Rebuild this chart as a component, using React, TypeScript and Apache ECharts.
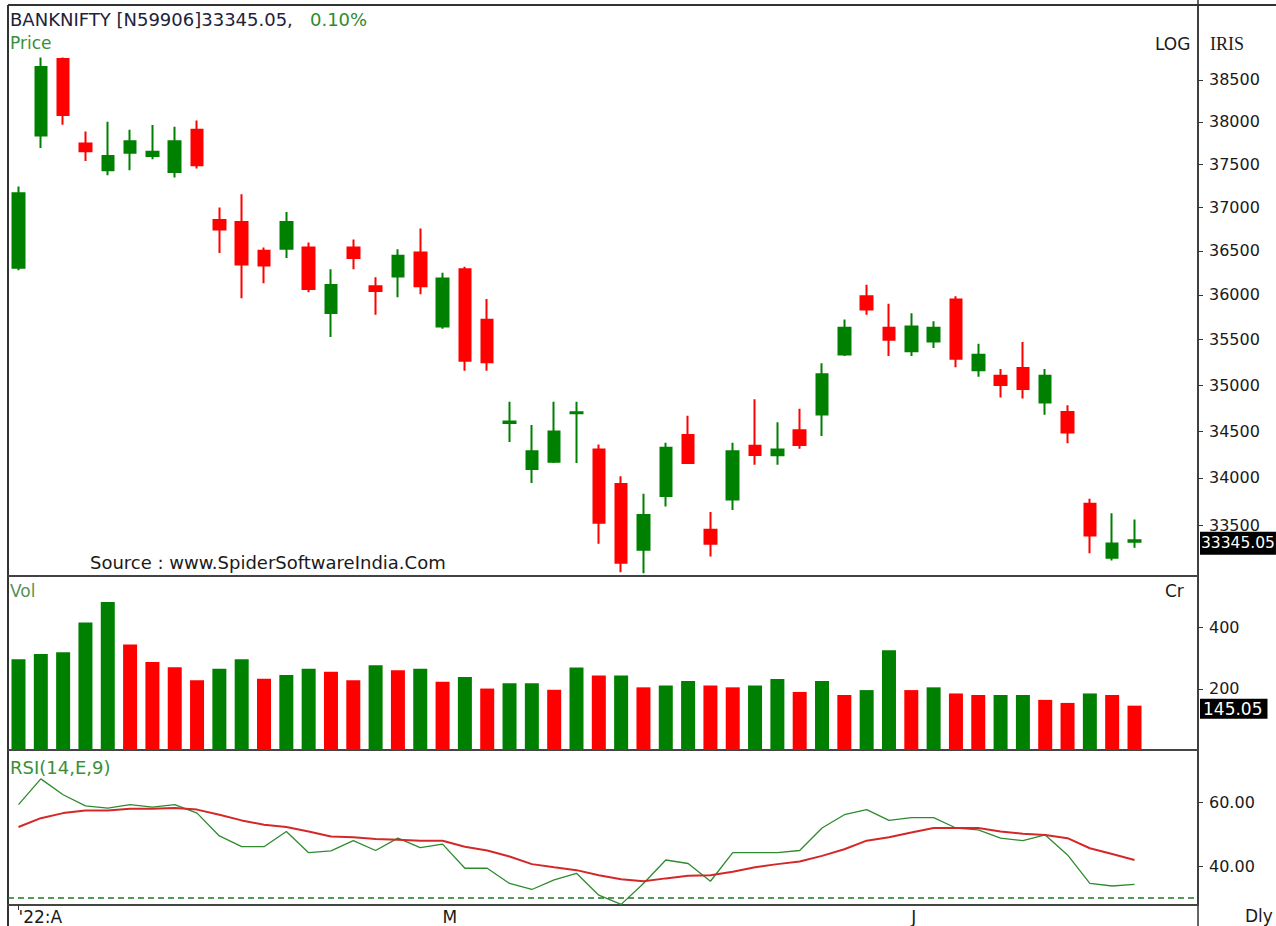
import React, { useEffect, useRef } from 'react';
import * as echarts from 'echarts';

// ---- Data ----
const opens = [36308, 37837, 38753, 37744, 37430, 37636, 37597, 37410, 37907, 36852,
  36829, 36500, 36523, 36538, 35797, 36538, 36097, 36208, 36481, 35648,
  36289, 35722, 34590, 34096, 34174, 34695, 34304, 33935, 33246, 33808,
  34460, 33455, 33772, 34344, 34242, 34511, 34681, 35337, 35986, 35633,
  35374, 35481, 35948, 35163, 35103, 35189, 34812, 34707, 33728, 33163, 33330];
const closes = [37163, 38658, 38080, 37654, 37597, 37771, 37648, 37771, 37488, 36744,
  36344, 36333, 36829, 36067, 36111, 36419, 36044, 36444, 36097, 36185,
  35267, 35252, 34605, 34286, 34497, 34705, 33528, 33112, 33609, 34323,
  34160, 33309, 34286, 34246, 34304, 34351, 35119, 35633, 35837, 35500,
  35648, 35633, 35289, 35333, 35003, 34957, 35103, 34486, 33395, 33311, 33345.05];
const lows = [36278, 37690, 37965, 37538, 37372, 37430, 37558, 37345, 37450, 36474,
  35963, 36133, 36419, 36030, 35530, 36289, 35778, 35974, 36008, 35622,
  35159, 35159, 34384, 33947, 34160, 34160, 33309, 33014, 33004, 33699,
  34150, 33177, 33663, 34140, 34140, 34312, 34449, 35319, 35778, 35319,
  35319, 35408, 35197, 35092, 34866, 34855, 34677, 34370, 33211, 33135, 33267];
const highs = [37241, 38770, 38770, 37887, 38000, 37907, 37962, 37942, 38015, 36997,
  37151, 36538, 36945, 36596, 36289, 36630, 36200, 36519, 36756, 36252,
  36319, 35956, 34818, 34567, 34818, 34818, 34358, 34018, 33834, 34377,
  34666, 33641, 34377, 34847, 34597, 34744, 35241, 35726, 36114, 35900,
  35796, 35707, 35986, 35456, 35178, 35474, 35178, 34780, 33779, 33627, 33562];

const volumes = [297, 314, 320, 417, 484, 345, 288, 271, 228, 266,
  297, 233, 245, 266, 256, 228, 277, 261, 266, 223,
  239, 201, 218, 218, 197, 270, 244, 244, 205, 211,
  226, 211, 205, 211, 232, 190, 226, 180, 196, 326,
  196, 205, 185, 180, 180, 180, 164, 154, 185, 180, 145.05];
const volumeUp = [1, 1, 1, 1, 1, 0, 0, 0, 0, 1,
  1, 0, 1, 1, 0, 0, 1, 0, 1, 0,
  1, 0, 1, 1, 0, 1, 0, 1, 0, 1,
  1, 0, 0, 1, 1, 0, 1, 0, 1, 1,
  0, 1, 0, 0, 1, 1, 0, 0, 1, 0, 0];

const rsi = [59.4, 67.5, 62.5, 59.0, 58.3, 59.4, 58.6, 59.4, 56.7, 49.5,
  46.1, 46.1, 50.9, 44.2, 44.8, 48.0, 44.9, 48.8, 45.8, 46.9,
  39.3, 39.3, 34.5, 32.6, 35.6, 37.7, 30.8, 27.9, 34.5, 41.9,
  40.8, 35.2, 44.2, 44.2, 44.2, 44.9, 52.0, 56.2, 57.8, 54.4,
  55.3, 55.3, 52.0, 51.4, 48.8, 48.0, 49.8, 43.5, 34.5, 33.7, 34.2];
const rsiSignal = [52.3, 55.1, 56.7, 57.5, 57.5, 58.1, 58.1, 58.3, 57.8, 56.2,
  54.4, 53.0, 52.3, 50.9, 49.3, 49.1, 48.5, 48.3, 48.0, 48.0,
  46.1, 44.9, 43.0, 40.6, 39.6, 38.7, 37.1, 35.8, 35.2, 36.1,
  36.9, 37.1, 38.2, 39.6, 40.6, 41.4, 43.2, 45.3, 48.0, 49.1,
  50.6, 52.0, 52.0, 52.0, 50.9, 50.2, 49.8, 48.8, 45.6, 43.8, 41.9];

const priceTicks = [33500, 34000, 34500, 35000, 35500, 36000, 36500, 37000, 37500, 38000, 38500];
const volumeTicks = [200, 400];
const rsiTicks = [40, 60];
const rsiOversold = 30;
const monthLabels = ["'22:A", 'M', 'J'];
const monthStarts = [0, 19, 40];

const lastClose = 33345.05;
const lastVolume = 145.05;
const changePct = '0.10%';

const FONT = '"DejaVu Sans", Verdana, sans-serif';
const GREEN = '#008000';
const RED = '#ff0000';
const TXT = '#1a1a1a';
const LABEL_GREEN = '#3a8f3a';

export default function App() {
  const ref = useRef<HTMLDivElement>(null);

  useEffect(() => {
    const chart = echarts.init(ref.current!, null, { renderer: 'svg' });
    const lg = Math.log10;
    const idx = opens.map((_, i) => i);

    const candleData = idx.map((i) => [i, lg(opens[i]), lg(closes[i]), lg(lows[i]), lg(highs[i])]);
    const volData = idx.map((i) => ({
      value: [i, volumes[i]],
      itemStyle: { color: volumeUp[i] ? GREEN : RED },
    }));
    const rsiData = idx.map((i) => [i, rsi[i]]);
    const sigData = idx.map((i) => [i, rsiSignal[i]]);

    const xMin = -0.47;
    const xMax = 52.845;
    const xAxisBase = (gridIndex: number, withLabels: boolean) => ({
      type: 'value',
      gridIndex,
      min: xMin,
      max: xMax,
      axisLine: { show: true, onZero: false, lineStyle: { color: '#444', width: 2 } },
      axisTick: withLabels
        ? { show: true, customValues: [monthStarts[0]], length: 5, lineStyle: { color: '#333' } }
        : { show: false },
      axisLabel: withLabels
        ? {
            show: true,
            customValues: monthStarts,
            formatter: (v: number) => monthLabels[monthStarts.indexOf(Math.round(v))] ?? '',
            align: 'left',
            margin: 3,
            fontSize: 17,
            fontFamily: FONT,
            color: TXT,
          }
        : { show: false },
      splitLine: { show: false },
    });

    const yLabel = {
      show: true,
      margin: 11,
      fontSize: 16,
      fontFamily: FONT,
      color: TXT,
    };
    const yBase = {
      type: 'value',
      position: 'right',
      axisLine: { show: true, onZero: false, lineStyle: { color: '#333', width: 1.5 } },
      splitLine: { show: false },
    };

    const baseGraphic: any[] = [
      { type: 'line', shape: { x1: 8, y1: 5, x2: 1276, y2: 5 }, style: { stroke: '#333', lineWidth: 2 } },
      { type: 'line', shape: { x1: 8, y1: 5, x2: 8, y2: 926 }, style: { stroke: '#333', lineWidth: 2 } },
      { type: 'line', shape: { x1: 1198, y1: 0, x2: 1198, y2: 926 }, style: { stroke: '#333', lineWidth: 1.5 } },
      {
        type: 'text',
        x: 10,
        y: 19,
        style: {
          text: `{a|BANKNIFTY [N59906]${lastClose.toFixed(2)},}{b|   ${changePct}}`,
          verticalAlign: 'middle',
          rich: {
            a: { fontSize: 18, fontFamily: FONT, fill: '#22223a' },
            b: { fontSize: 18, fontFamily: FONT, fill: '#2e8b2e' },
          },
        },
      },
      { type: 'text', x: 10, y: 43, style: { text: 'Price', fontSize: 17, fontFamily: FONT, fill: LABEL_GREEN, verticalAlign: 'middle' } },
      { type: 'text', x: 1155, y: 44, style: { text: 'LOG', fontSize: 17, fontFamily: FONT, fill: TXT, verticalAlign: 'middle' } },
      { type: 'text', x: 1210, y: 44, style: { text: 'IRIS', fontSize: 18, fontFamily: '"Liberation Serif", serif', fill: TXT, verticalAlign: 'middle' } },
      { type: 'text', x: 90, y: 562, style: { text: 'Source : www.SpiderSoftwareIndia.Com', fontSize: 18, fontFamily: FONT, fill: TXT, verticalAlign: 'middle' } },
      { type: 'text', x: 10, y: 591, style: { text: 'Vol', fontSize: 17, fontFamily: FONT, fill: '#5a8f5a', verticalAlign: 'middle' } },
      { type: 'text', x: 1165, y: 591, style: { text: 'Cr', fontSize: 17, fontFamily: FONT, fill: TXT, verticalAlign: 'middle' } },
      { type: 'text', x: 10, y: 767, style: { text: 'RSI(14,E,9)', fontSize: 18, fontFamily: FONT, fill: LABEL_GREEN, verticalAlign: 'middle' } },
      { type: 'text', x: 1245, y: 916, style: { text: 'Dly', fontSize: 17, fontFamily: FONT, fill: TXT, verticalAlign: 'middle' } },
    ];

    const option: any = {
      animation: false,
      backgroundColor: '#ffffff',
      grid: [
        { left: 8, top: 6, width: 1190, height: 570 },
        { left: 8, top: 577, width: 1190, height: 173 },
        { left: 8, top: 751, width: 1190, height: 154 },
      ],
      xAxis: [xAxisBase(0, false), xAxisBase(1, false), xAxisBase(2, true)],
      yAxis: [
        {
          ...yBase,
          gridIndex: 0,
          min: lg(32975),
          max: lg(39400),
          axisTick: { show: true, length: 5, customValues: priceTicks.map(lg), lineStyle: { color: '#333' } },
          axisLabel: {
            ...yLabel,
            customValues: priceTicks.map(lg),
            formatter: (v: number) => String(Math.round(Math.pow(10, v))),
          },
        },
        {
          ...yBase,
          gridIndex: 1,
          min: 0,
          max: 566,
          axisTick: { show: true, length: 5, customValues: volumeTicks, lineStyle: { color: '#333' } },
          axisLabel: { ...yLabel, customValues: volumeTicks },
        },
        {
          ...yBase,
          gridIndex: 2,
          min: 27.7,
          max: 76.3,
          axisTick: { show: true, length: 5, customValues: rsiTicks, lineStyle: { color: '#333' } },
          axisLabel: { ...yLabel, customValues: rsiTicks, formatter: (v: number) => v.toFixed(2) },
        },
      ],
      series: [
        {
          type: 'candlestick',
          xAxisIndex: 0,
          yAxisIndex: 0,
          data: candleData,
          encode: { x: 0, y: [1, 2, 3, 4] },
          barWidth: 12,
          itemStyle: {
            color: GREEN,
            color0: RED,
            borderColor: GREEN,
            borderColor0: RED,
            borderWidth: 2,
          },
        },
        {
          type: 'bar',
          xAxisIndex: 1,
          yAxisIndex: 1,
          data: volData,
          barWidth: 14,
        },
        {
          type: 'line',
          xAxisIndex: 2,
          yAxisIndex: 2,
          data: rsiData,
          symbol: 'none',
          lineStyle: { color: '#2e8b2e', width: 1.3 },
          markLine: {
            silent: true,
            symbol: ['none', 'none'],
            label: { show: false },
            lineStyle: { color: '#1f7a1f', type: [6, 4], width: 1.5 },
            data: [{ yAxis: rsiOversold }],
          },
        },
        {
          type: 'line',
          xAxisIndex: 2,
          yAxisIndex: 2,
          data: sigData,
          symbol: 'none',
          lineStyle: { color: '#d42828', width: 2 },
        },
      ],
      graphic: baseGraphic,
    };

    chart.setOption(option);

    // value tags on the right axis, positioned through the axes' own scales
    const yClose = chart.convertToPixel({ yAxisIndex: 0 }, lg(lastClose)) as number;
    const yVol = chart.convertToPixel({ yAxisIndex: 1 }, lastVolume) as number;
    const tag = (text: string, y: number, size: number, pad: number[]) => ({
      type: 'text',
      x: 1200,
      y,
      z: 100,
      style: {
        text,
        fontSize: size,
        fontFamily: FONT,
        fill: '#fff',
        backgroundColor: '#000',
        padding: pad,
        verticalAlign: 'middle',
      },
    });
    chart.setOption({
      graphic: [
        ...baseGraphic,
        tag(lastClose.toFixed(2), yClose + 3, 15.5, [4, 1, 3, 1]),
        tag(lastVolume.toFixed(2), yVol + 3, 17, [2, 5, 1, 3]),
      ],
    });

    return () => chart.dispose();
  }, []);

  return (
    <div
      ref={ref}
      style={{ position: 'fixed', left: 0, top: 0, width: 1276, height: 926, background: '#fff' }}
    />
  );
}
